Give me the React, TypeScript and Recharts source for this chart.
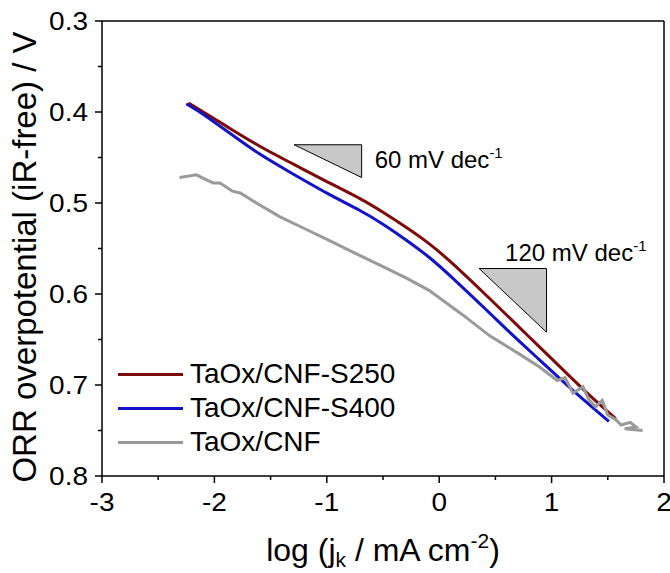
import React from 'react';
import { LineChart, Line, XAxis, YAxis, ReferenceArea, ReferenceLine, Legend } from 'recharts';

const FONT = '"Liberation Sans", Arial, Helvetica, sans-serif';

// log(jk) tick positions, major on integers
const xTicks = [-3, -2.5, -2, -1.5, -1, -0.5, 0, 0.5, 1, 1.5, 2];
// overpotential tick positions, major on tenths
const yTicks = [0.3, 0.35, 0.4, 0.45, 0.5, 0.55, 0.6, 0.65, 0.7, 0.75, 0.8];

const seriesNames = ['TaOx/CNF-S250', 'TaOx/CNF-S400', 'TaOx/CNF'];
const seriesColors = ['#7d0a0a', '#1212c8', '#9a9a9a'];

// TaOx/CNF-S250
const s250 = [
  { x: -2.23, y: 0.39 }, { x: -2.1, y: 0.4 }, { x: -1.9, y: 0.415 }, { x: -1.6, y: 0.438 },
  { x: -1.3, y: 0.457 }, { x: -0.98, y: 0.478 }, { x: -0.7, y: 0.495 }, { x: -0.5, y: 0.51 },
  { x: -0.3, y: 0.526 }, { x: -0.09, y: 0.544 }, { x: 0.1, y: 0.564 }, { x: 0.45, y: 0.605 },
  { x: 0.65, y: 0.629 }, { x: 0.89, y: 0.658 }, { x: 1.1, y: 0.683 }, { x: 1.3, y: 0.707 },
  { x: 1.45, y: 0.724 }, { x: 1.57, y: 0.737 },
];

// TaOx/CNF-S400
const s400 = [
  { x: -2.25, y: 0.391 }, { x: -2.1, y: 0.402 }, { x: -1.9, y: 0.42 }, { x: -1.6, y: 0.447 },
  { x: -1.3, y: 0.468 }, { x: -0.98, y: 0.491 }, { x: -0.7, y: 0.508 }, { x: -0.5, y: 0.523 },
  { x: -0.3, y: 0.54 }, { x: -0.09, y: 0.559 }, { x: 0.1, y: 0.58 }, { x: 0.45, y: 0.621 },
  { x: 0.65, y: 0.645 }, { x: 0.89, y: 0.672 }, { x: 1.1, y: 0.696 }, { x: 1.3, y: 0.718 },
  { x: 1.51, y: 0.74 },
];

// TaOx/CNF (noisy at high current)
const cnf = [
  { x: -2.31, y: 0.472 }, { x: -2.16, y: 0.469 }, { x: -2.08, y: 0.474 }, { x: -2.01, y: 0.478 },
  { x: -1.95, y: 0.478 }, { x: -1.84, y: 0.487 }, { x: -1.77, y: 0.489 }, { x: -1.6, y: 0.502 },
  { x: -1.42, y: 0.515 }, { x: -1.2, y: 0.528 }, { x: -0.98, y: 0.541 }, { x: -0.75, y: 0.555 },
  { x: -0.5, y: 0.57 }, { x: -0.3, y: 0.582 }, { x: -0.09, y: 0.596 }, { x: 0.21, y: 0.623 },
  { x: 0.45, y: 0.646 }, { x: 0.7, y: 0.665 }, { x: 0.89, y: 0.68 }, { x: 1.05, y: 0.695 },
  { x: 1.12, y: 0.692 }, { x: 1.19, y: 0.709 }, { x: 1.28, y: 0.702 }, { x: 1.33, y: 0.716 },
  { x: 1.39, y: 0.724 }, { x: 1.45, y: 0.717 }, { x: 1.5, y: 0.733 }, { x: 1.57, y: 0.738 },
  { x: 1.62, y: 0.744 }, { x: 1.7, y: 0.741 }, { x: 1.75, y: 0.746 }, { x: 1.65, y: 0.748 },
  { x: 1.81, y: 0.75 },
];

// Tafel slope triangles (data units) and their labels
const slopeX1 = [-1.29, 0.355];
const slopeX2 = [-0.69, 0.955];
const slopeY1 = [0.436, 0.572];
const slopeY2 = [0.472, 0.642];
const slopeLabels = ['60 mV dec', '120 mV dec'];

const STRETCH = 1.12;

const isMajor = (v: number, step: number) => Math.abs(v / step - Math.round(v / step)) < 1e-6;

const YTick = ({ x, y, payload }: any) => {
  const v = payload.value;
  const major = isMajor(v, 0.1);
  return (
    <g>
      <line x1={x - (major ? 7 : 4)} x2={x} y1={y} y2={y} stroke="#000" strokeWidth={1.5} />
      {major && (
        <text
          transform={`translate(${x - 14},${y + 9}) scale(${STRETCH},1)`}
          textAnchor="end"
          fontFamily={FONT}
          fontSize={25}
          fill="#000"
        >
          {v.toFixed(1)}
        </text>
      )}
    </g>
  );
};

const XTick = ({ x, y, payload }: any) => {
  const v = payload.value;
  const major = isMajor(v, 1);
  return (
    <g>
      <line x1={x} x2={x} y1={y} y2={y + (major ? 7 : 4)} stroke="#000" strokeWidth={1.5} />
      {major && (
        <text
          transform={`translate(${x},${y + 35}) scale(${STRETCH},1)`}
          textAnchor="middle"
          fontFamily={FONT}
          fontSize={25}
          fill="#000"
        >
          {String(v)}
        </text>
      )}
    </g>
  );
};

const YTitle = () => {
  const cx = 36;
  const cy = 257;
  return (
    <text
      x={cx}
      y={cy}
      transform={`rotate(-90, ${cx}, ${cy})`}
      textAnchor="middle"
      fontFamily={FONT}
      fontSize={33}
      fill="#000"
    >
      ORR overpotential (iR-free) / V
    </text>
  );
};

const XTitle = () => (
  <text x={383} y={561} textAnchor="middle" fontFamily={FONT} fontSize={32} fill="#000">
    log (j
    <tspan fontSize={21} dy={6}>k</tspan>
    <tspan dy={-6}> / mA cm</tspan>
    <tspan fontSize={21} dy={-13}>-2</tspan>
    <tspan dy={13}>)</tspan>
  </text>
);

const SlopeMark = (props: any) => {
  const { idx } = props;
  const left = Math.min(props.x, props.x + props.width);
  const right = Math.max(props.x, props.x + props.width);
  const top = Math.min(props.y, props.y + props.height);
  const bottom = Math.max(props.y, props.y + props.height);
  const tx = idx === 0 ? right + 13 : left + 26;
  const ty = idx === 0 ? top + 23 : top - 8;
  return (
    <g>
      <polygon
        points={`${left},${top} ${right},${top} ${right},${bottom}`}
        fill="#c8c8c8"
        stroke="#000"
        strokeWidth={1}
      />
      <text x={tx} y={ty} fontFamily={FONT} fontSize={24} fill="#000">
        {slopeLabels[idx]}
        <tspan fontSize={15} dy={-10}>-1</tspan>
      </text>
    </g>
  );
};

const LegendBox = ({ payload }: any) => {
  const items = [...(payload || [])].sort(
    (a: any, b: any) => seriesNames.indexOf(a.value) - seriesNames.indexOf(b.value)
  );
  return (
    <div style={{ fontFamily: FONT, fontSize: 28, color: '#000' }}>
      {items.map((e: any) => (
        <div key={e.value} style={{ display: 'flex', alignItems: 'center', height: 34, whiteSpace: 'nowrap' }}>
          <span style={{ display: 'inline-block', width: 65, height: 3, background: e.color, marginRight: 7, flexShrink: 0 }} />
          <span>{e.value}</span>
        </div>
      ))}
    </div>
  );
};

export default function App() {
  const series = [s250, s400, cnf];
  return (
    <div style={{ position: 'absolute', left: 0, top: 0, background: '#fff' }}>
      <LineChart width={670} height={573} margin={{ top: 21, right: 6, bottom: 0, left: 0 }}>
        <XAxis
          type="number"
          dataKey="x"
          domain={[-3, 2]}
          ticks={xTicks}
          interval={0}
          allowDataOverflow
          height={97}
          tickSize={0}
          tickMargin={0}
          tickLine={false}
          axisLine={{ stroke: '#000', strokeWidth: 1.5 }}
          tick={<XTick />}
          label={{ content: () => <XTitle /> }}
        />
        <YAxis
          type="number"
          dataKey="y"
          domain={[0.3, 0.8]}
          reversed
          ticks={yTicks}
          interval={0}
          allowDataOverflow
          width={102}
          tickSize={0}
          tickMargin={0}
          tickLine={false}
          axisLine={{ stroke: '#000', strokeWidth: 1.5 }}
          tick={<YTick />}
          label={{ content: () => <YTitle /> }}
        />
        <ReferenceLine y={0.3} stroke="#000" strokeWidth={1.5} />
        <ReferenceLine x={2} stroke="#000" strokeWidth={1.5} />
        {slopeLabels.map((_, i) => (
          <ReferenceArea
            key={`slope-${i}`}
            x1={slopeX1[i]}
            x2={slopeX2[i]}
            y1={slopeY1[i]}
            y2={slopeY2[i]}
            shape={(p: any) => <SlopeMark {...p} idx={i} />}
          />
        ))}
        {series.map((d, i) => (
          <Line
            key={seriesNames[i]}
            data={d}
            dataKey="y"
            name={seriesNames[i]}
            type={i < 2 ? 'basis' : 'linear'}
            stroke={seriesColors[i]}
            strokeWidth={3}
            dot={false}
            activeDot={false}
            isAnimationActive={false}
          />
        ))}
        <Legend
          layout="horizontal"
          verticalAlign="middle"
          align="center"
          content={<LegendBox />}
          wrapperStyle={{ left: 118, top: 357, width: 'auto', height: 'auto' }}
        />
      </LineChart>
    </div>
  );
}
